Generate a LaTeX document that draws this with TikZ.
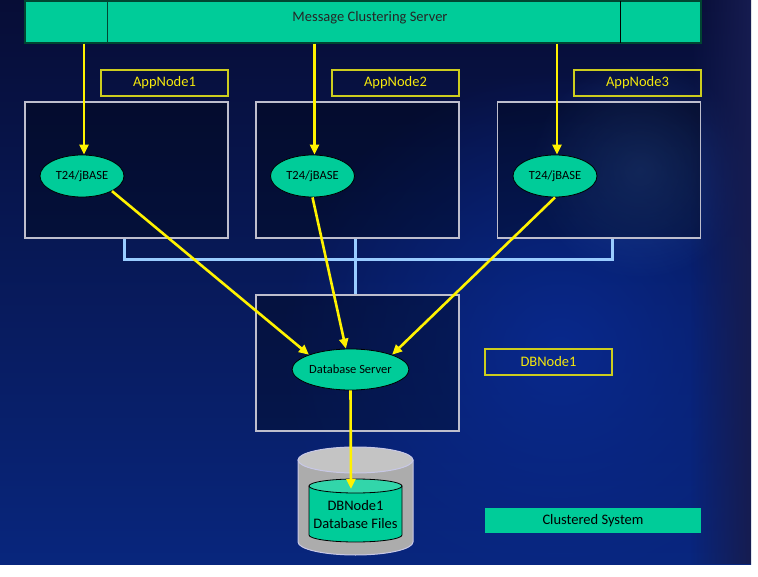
\documentclass[tikz,border=0pt]{standalone}
\usepackage{fontspec}
\setmainfont{Carlito}
\usetikzlibrary{shapes.geometric,arrows.meta,fadings}
\definecolor{seagreen}{RGB}{0,204,153}
\definecolor{filetop}{RGB}{50,214,170}
\definecolor{bardark}{RGB}{0,70,50}
\definecolor{bgtop}{RGB}{7,13,54}
\definecolor{bgbottom}{RGB}{8,38,125}
\definecolor{glowblue}{RGB}{8,42,145}
\definecolor{globeblue}{RGB}{60,110,190}
\definecolor{bgedge}{RGB}{22,28,80}
\definecolor{busblue}{RGB}{153,204,255}
\definecolor{boxgray}{RGB}{190,190,205}
\definecolor{labelyellow}{RGB}{205,205,30}
\definecolor{cylgray}{RGB}{172,172,172}
\definecolor{cyltop}{RGB}{196,196,196}
\definecolor{cylrim}{RGB}{200,200,230}
\tikzfading[name=glowfade, inner color=transparent!0, outer color=transparent!100]
\tikzfading[name=edgefade, left color=transparent!100, right color=transparent!0]
\begin{document}
\begin{tikzpicture}[x=1pt,y=-1pt,
    bigfont/.style={font=\fontsize{14.5}{17}\selectfont},
    flow/.style={yellow, line width=2.6pt, -{Triangle[length=10pt,width=9pt]}},
    bus/.style={busblue, line width=3pt},
    hostbox/.style={draw=boxgray, line width=1.3pt, fill=black, fill opacity=0.3, minimum width=203pt, minimum height=136pt, inner sep=0pt},
    namebox/.style={bigfont, draw=labelyellow, line width=1.2pt, text=yellow!95!black, minimum width=127pt, minimum height=26pt, inner sep=0pt},
    proc/.style={ellipse, draw=black, line width=0.8pt, fill=seagreen, minimum width=84pt, minimum height=42pt, inner sep=0pt, font=\fontsize{12.5}{14}\selectfont}]
  \useasboundingbox (0,0) rectangle (758,577);
  \begin{scope}
    \clip (0,0) rectangle (751,564);
    \shade[top color=bgtop, bottom color=bgbottom] (0,0) rectangle (751,564);
    \fill[glowblue, path fading=glowfade, fill opacity=0.9] (560,350) circle (280pt);
    \fill[globeblue, path fading=glowfade, fill opacity=0.35] (640,170) circle (110pt);
    \fill[bgedge, path fading=edgefade] (690,0) rectangle (751,564);
  \end{scope}

  \node[draw=bardark, line width=1.3pt, fill=seagreen, minimum width=676pt, minimum height=42pt, inner sep=0pt] (bar) at (363,22) {};
  \draw[bardark, line width=0.8pt] (107,1) -- (107,43);
  \draw[black, line width=0.8pt] (620,1) -- (620,43);
  \node[bigfont, text=black!85] (bartitle) at (370,18) {Message Clustering Server};

  \node[namebox] (name1) at (164.5,83) {AppNode1};
  \node[namebox] (name2) at (395.5,83) {AppNode2};
  \node[namebox] (name3) at (637.5,83) {AppNode3};
  \node[hostbox] (app1) at (126.5,170) {};
  \node[hostbox] (app2) at (357.5,170) {};
  \node[hostbox] (app3) at (599,170) {};
  \node[hostbox] (db) at (357.5,363) {};
  \node[namebox] (dbname) at (548.5,362) {DBNode1};
  \node[bigfont, fill=seagreen, minimum width=216pt, minimum height=25pt, inner sep=0pt] (cluster) at (593,520.5) {Clustered System};

  \coordinate (busL) at (124,260);
  \coordinate (busM) at (355,260);
  \coordinate (busR) at (612,260);
  \draw[bus] (busL |- app1.south) -- (busL) -- (busR) -- (busR |- app3.south);
  \draw[bus] (busM |- app2.south) -- (busM |- db.north);

  \node[proc] (e1) at (82,176) {T24/jBASE};
  \node[proc] (e2) at (312.5,176) {T24/jBASE};
  \node[proc] (e3) at (555,176) {T24/jBASE};
  \node[proc, minimum width=85pt, minimum height=41pt] (dbs) at (350.5,369.5) {Database Server};

  \filldraw[fill=cylgray, draw=cylrim, line width=1pt] (298,460) -- (298,542) arc[start angle=180, end angle=360, x radius=57.5pt, y radius=13pt] -- (413,460) -- cycle;
  \filldraw[fill=cyltop, draw=cylrim, line width=1pt] (355.5,460) ellipse [x radius=57.5pt, y radius=13pt];
  \filldraw[fill=seagreen, draw=black, line width=0.8pt] (309,486) -- (309,535) arc[start angle=180, end angle=360, x radius=46.5pt, y radius=7pt] -- (402,486) -- cycle;
  \filldraw[fill=filetop, draw=black, line width=0.8pt] (355.5,486) ellipse [x radius=46.5pt, y radius=7pt];
  \node[bigfont, align=center, font=\fontsize{14.5}{18}\selectfont] (files) at (355.5,515) {DBNode1\\Database Files};
  \coordinate (filestop) at (351,489);

  \draw[flow] ([xshift=2pt]e1.north |- bar.south) -- ([xshift=2pt]e1.north);
  \draw[flow] ([xshift=2pt]e2.north |- bar.south) -- ([xshift=2pt]e2.north);
  \draw[flow] ([xshift=2pt]e3.north |- bar.south) -- ([xshift=2pt]e3.north);
  \draw[flow] (e1.south east) -- (dbs.north west);
  \draw[flow] (e2.south) -- (dbs);
  \draw[flow] (e3.south) -- (dbs.north east);
  \draw[flow] (dbs.south) -- (filestop);
\end{tikzpicture}
\end{document}
